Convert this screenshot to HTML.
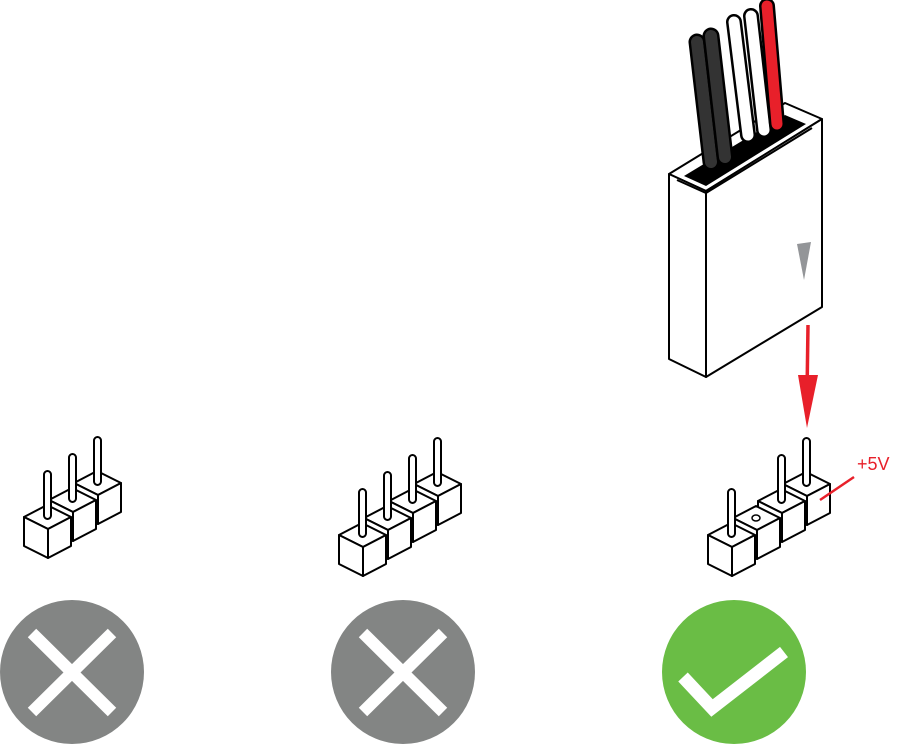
<!DOCTYPE html>
<html><head><meta charset="utf-8"><style>html,body{margin:0;padding:0;background:#fff;width:899px;height:745px;overflow:hidden}</style></head>
<body>
<svg width="899" height="745" viewBox="0 0 899 745" xmlns="http://www.w3.org/2000/svg">
<defs>
<g id="cube">
  <path d="M0,12 L24,24 L47,12 L23,0 Z" fill="#fff" stroke="#000" stroke-width="2" stroke-linejoin="round"/>
  <path d="M0,12 L24,24 L24,53 L0,41 Z" fill="#fff" stroke="#000" stroke-width="2" stroke-linejoin="round"/>
  <path d="M24,24 L47,12 L47,41 L24,53 Z" fill="#fff" stroke="#000" stroke-width="2" stroke-linejoin="round"/>
</g>
<g id="pin">
  <use href="#cube"/>
  <rect x="20" y="-34" width="7" height="48" rx="3.5" fill="#fff" stroke="#000" stroke-width="2"/>
</g>
<g id="hole">
  <use href="#cube"/>
  <ellipse cx="23" cy="12" rx="4" ry="3" fill="#fff" stroke="#000" stroke-width="1.5"/>
</g>
</defs>

<use href="#pin" x="74" y="471"/>
<use href="#pin" x="49" y="488"/>
<use href="#pin" x="24" y="505"/>

<use href="#pin" x="414" y="472"/>
<use href="#pin" x="389" y="489"/>
<use href="#pin" x="364" y="506"/>
<use href="#pin" x="339" y="523"/>

<use href="#pin" x="783" y="472"/>
<use href="#pin" x="758" y="489"/>
<use href="#hole" x="733" y="506"/>
<use href="#pin" x="708" y="523"/>
<line x1="820" y1="500" x2="854" y2="477" stroke="#e8202a" stroke-width="2.5"/>
<text x="857" y="470" style="font-family:'Liberation Sans',sans-serif;font-size:18px" fill="#e8202a">+5V</text>

<path d="M669,174 L706,191 L822,119 L785,103 Z" fill="#fff" stroke="#000" stroke-width="2" stroke-linejoin="round"/>
<path d="M684,176 L706,186 L806,124 L785,115 Z" fill="#000"/>
<path d="M669,174 L706,191 L706,377 L669,359 Z" fill="#fff" stroke="#000" stroke-width="2" stroke-linejoin="round"/>
<path d="M706,191 L822,119 L822,307 L706,377 Z" fill="#fff" stroke="#000" stroke-width="2" stroke-linejoin="round"/>
<path d="M797,244 L811,242 L804,280 Z" fill="#939598"/>
<g stroke-linecap="round">
  <line x1="697" y1="42" x2="711" y2="162" stroke="#000" stroke-width="17"/>
  <line x1="697" y1="42" x2="711" y2="162" stroke="#333" stroke-width="12"/>
  <line x1="711" y1="36" x2="725" y2="157" stroke="#000" stroke-width="17"/>
  <line x1="711" y1="36" x2="725" y2="157" stroke="#333" stroke-width="12"/>
  <line x1="734" y1="22" x2="748" y2="135" stroke="#000" stroke-width="16"/>
  <line x1="734" y1="22" x2="748" y2="135" stroke="#fff" stroke-width="11"/>
  <line x1="751" y1="16" x2="764" y2="130" stroke="#000" stroke-width="16"/>
  <line x1="751" y1="16" x2="764" y2="130" stroke="#fff" stroke-width="11"/>
  <line x1="767" y1="6" x2="777" y2="124" stroke="#000" stroke-width="16"/>
  <line x1="767" y1="6" x2="777" y2="124" stroke="#e8202a" stroke-width="11"/>
</g>
<path d="M677,180 L706,193 L812,128" fill="none" stroke="#000" stroke-width="2"/>

<line x1="808" y1="325" x2="807" y2="395" stroke="#e8202a" stroke-width="3.5"/>
<path d="M798,375 L818,375 L807,428 Z" fill="#e8202a"/>

<circle cx="72" cy="672" r="72" fill="#838584"/>
<path d="M32,633 L112,712 M112,633 L32,712" stroke="#fff" stroke-width="12"/>
<circle cx="403" cy="672" r="72" fill="#838584"/>
<path d="M363,633 L443,712 M443,633 L363,712" stroke="#fff" stroke-width="12"/>
<circle cx="734" cy="672" r="72" fill="#6abd45"/>
<path d="M683,677 L712,708 L784,652" fill="none" stroke="#fff" stroke-width="13"/>
</svg>
</body></html>
